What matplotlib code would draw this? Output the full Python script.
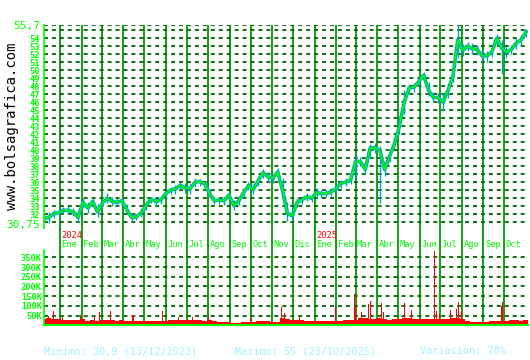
import numpy as np
import pandas as pd
import matplotlib
matplotlib.use("Agg")
import matplotlib.pyplot as plt
import matplotlib.transforms as mtransforms

# ---------------- data ----------------
week_start = "2023-12-09"
close = [31.5, 31.6, 32.1, 32.2, 32.5, 32.5, 32.3, 31.6, 33.5, 32.8,
         33.6, 32.3, 33.4, 34.0, 33.6, 33.5, 33.7, 32.6, 31.6, 31.7,
         32.2, 33.1, 33.9, 33.6, 33.8, 34.6, 35.0, 35.2, 35.6, 35.3,
         35.2, 36.0, 36.1, 35.8, 34.6, 33.7, 33.8, 33.7, 34.4, 33.1,
         33.7, 34.7, 35.6, 35.1, 36.2, 37.2, 36.7, 36.5, 37.3, 35.0,
         32.1, 31.8, 33.5, 33.8, 34.2, 34.0, 34.7, 34.6, 34.6, 34.8,
         35.2, 35.9, 36.0, 36.3, 38.6, 38.6, 37.6, 40.3, 40.3, 40.0,
         37.6, 39.3, 40.8, 43.0, 46.0, 47.8, 47.9, 48.6, 49.4, 47.5,
         46.6, 46.6, 46.0, 47.5, 49.2, 53.8, 52.5, 53.0, 52.7, 52.6,
         51.8, 51.8, 52.3, 54.0, 52.8, 52.3, 52.6, 53.4, 53.8, 54.8]
high = [32.2, 32.3, 32.6, 32.7, 32.9, 33.0, 32.8, 32.4, 34.0, 33.5,
        34.0, 33.3, 33.9, 34.7, 34.2, 34.0, 34.1, 33.3, 32.2, 32.1,
        32.8, 33.6, 34.2, 34.0, 34.2, 35.0, 35.4, 35.7, 36.0, 35.9,
        35.8, 36.5, 36.4, 36.2, 35.2, 34.2, 34.2, 34.2, 34.8, 33.8,
        34.2, 35.2, 36.0, 35.8, 36.7, 37.7, 37.3, 37.0, 37.8, 36.5,
        33.6, 32.8, 34.0, 34.3, 34.7, 34.6, 35.3, 35.1, 35.0, 35.3,
        35.7, 36.3, 36.5, 36.8, 39.5, 39.2, 38.5, 40.8, 40.9, 40.6,
        38.6, 39.8, 41.5, 44.2, 47.6, 48.3, 48.4, 49.1, 49.8, 48.5,
        47.3, 47.2, 47.2, 48.4, 50.0, 55.7, 53.3, 53.6, 53.4, 53.2,
        52.5, 52.4, 53.0, 54.5, 53.8, 53.0, 53.2, 54.0, 54.4, 55.2]
low = [31.1, 30.9, 31.6, 31.7, 32.0, 32.0, 31.8, 31.0, 32.8, 32.2,
       33.0, 31.7, 32.8, 33.4, 33.1, 33.0, 33.2, 32.0, 31.2, 31.3,
       31.7, 32.6, 33.4, 33.1, 33.3, 34.1, 34.5, 34.6, 35.1, 34.7,
       34.6, 35.4, 35.6, 35.3, 34.0, 33.3, 33.3, 33.2, 33.9, 32.6,
       33.2, 34.1, 35.0, 34.6, 35.6, 36.6, 36.1, 35.9, 36.7, 34.0,
       31.2, 31.2, 32.9, 33.3, 33.7, 33.5, 34.1, 34.1, 34.2, 34.3,
       34.7, 35.3, 35.5, 35.8, 36.5, 38.0, 37.0, 39.0, 39.7, 33.4,
       36.8, 38.6, 40.2, 42.0, 44.5, 47.0, 47.3, 48.0, 48.7, 46.8,
       46.0, 45.9, 44.9, 46.5, 48.5, 51.5, 51.8, 52.4, 52.0, 51.9,
       51.0, 51.1, 51.7, 53.2, 49.6, 51.6, 52.0, 52.7, 53.1, 54.2]
# weekly base volume, thousands of shares
vol_week = [34, 38, 34, 30, 28, 28, 26, 28, 30, 24,
            26, 24, 28, 26, 28, 24, 26, 22, 22, 24,
            22, 22, 24, 24, 22, 24, 26, 28, 28, 28,
            26, 28, 26, 24, 26, 22, 18, 16, 16, 14,
            14, 16, 18, 18, 22, 22, 24, 18, 18, 38,
            34, 28, 26, 26, 24, 22, 22, 24, 22, 22,
            24, 24, 26, 26, 28, 38, 38, 34, 34, 38,
            34, 28, 32, 34, 38, 38, 34, 32, 34, 32,
            34, 32, 34, 34, 38, 38, 34, 24, 18, 15,
            15, 18, 22, 22, 24, 24, 26, 26, 24, 28]
spike_dates = ["2023-12-15", "2023-12-23", "2024-01-05", "2024-01-30", "2024-02-20",
               "2024-02-27", "2024-03-14", "2024-04-15", "2024-05-28", "2024-06-20",
               "2024-07-10", "2024-08-02", "2024-10-02", "2024-11-15", "2024-11-19",
               "2024-12-10", "2025-01-31", "2025-02-27", "2025-03-01", "2025-03-10",
               "2025-03-19", "2025-03-22", "2025-04-07", "2025-04-10", "2025-05-10",
               "2025-05-20", "2025-06-22", "2025-06-25", "2025-06-30", "2025-07-15",
               "2025-07-24", "2025-07-27", "2025-07-31", "2025-09-27", "2025-09-28"]
spike_vol = [50, 73, 45, 55, 45,
             68, 73, 55, 75, 45,
             45, 50, 40, 96, 65,
             45, 96, 161, 96, 70,
             110, 124, 113, 70, 113,
             80, 385, 75, 60, 80,
             85, 118, 75, 100, 118]
month_names = ["Ene", "Feb", "Mar", "Abr", "May", "Jun",
               "Jul", "Ago", "Sep", "Oct", "Nov", "Dic"]
year_labels = ["2024", "2025"]
price_min, price_max = 30.75, 55.7
price_ticks = list(range(32, 55))
vol_ticks = [50, 100, 150, 200, 250, 300, 350]
footer = ["Minimo: 30,9 (13/12/2023)", "Maximo: 55 (23/10/2025)", "Variación: 78%"]

# ---------------- styling ----------------
GREEN = "#00ff00"
VGRID = "#009900"
HGRID = "#006400"
TEAL = "#00a8b4"
FOOT = "#a0f0ff"
MONO = "DejaVu Sans Mono"

dates = pd.date_range(week_start, periods=len(close), freq="7D")
sp_dates = pd.to_datetime(spike_dates)
months = pd.date_range("2024-01-01", "2025-10-01", freq="MS")
xlim = (pd.Timestamp("2023-12-09"), pd.Timestamp("2025-11-04"))

W, H = 530, 360
fig = plt.figure(figsize=(W / 100, H / 100), dpi=100)
fig.patch.set_facecolor("white")

def fx(px):
    return px / W

def fy(py):
    return 1 - py / H

L, R = 44, 528
P_TOP, P_BOT = 24.7, 224.3
V_TOP, V_BOT = 250, 325.3

bg = fig.add_axes([fx(L), fy(V_BOT), fx(R - L), (V_BOT - P_TOP) / H])
ax = fig.add_axes([fx(L), fy(P_BOT), fx(R - L), (P_BOT - P_TOP) / H])
av = fig.add_axes([fx(L), fy(V_BOT), fx(R - L), (V_BOT - V_TOP) / H])

# background: month lines and labels
bg.set_xlim(*xlim)
bg.set_ylim(0, 1)
bg.axis("off")
for m in months:
    bg.axvline(m, color=VGRID, lw=1.3, zorder=0)
trans = mtransforms.blended_transform_factory(bg.transData, bg.transAxes)
off = mtransforms.offset_copy(trans, fig=fig, x=1.5, y=0, units="dots")
y_lab = (V_BOT - 244.7) / (V_BOT - P_TOP)
y_year = (V_BOT - 236) / (V_BOT - P_TOP)
for m in months:
    bg.text(m, y_lab, month_names[m.month - 1], transform=off, color=GREEN,
            fontsize=6.3, family=MONO, ha="left", va="center")
for ylab in year_labels:
    d = pd.Timestamp(f"{ylab}-01-01")
    bg.text(d, y_year, ylab, transform=off, color="#ff0000",
            fontsize=6.3, family=MONO, ha="left", va="center")

# price panel
for a in (ax, av):
    a.set_facecolor("none")
    a.set_xlim(*xlim)
    for s in ("top", "right", "bottom"):
        a.spines[s].set_visible(False)
    a.spines["left"].set_color(GREEN)
    a.spines["left"].set_linewidth(1.2)
    a.set_xticks([])

ax.set_ylim(price_min, price_max)
ax.spines["left"].set_bounds(30.3, price_max)
levels = list(np.arange(31, 56)) + [price_max]
ax.hlines(levels, *xlim, colors=HGRID, linestyles=(0, (2.2, 2.2)), lw=1.3, zorder=1)
ax.vlines(dates, low, high, color=TEAL, lw=1.0, zorder=2)
ax.plot(dates, close, color=TEAL, lw=2.6, zorder=2)
ax.plot(dates, close, color=GREEN, lw=1.1, zorder=3)

ax.set_yticks([price_min] + price_ticks + [price_max])
ylabels = ["30,75"] + [str(t) for t in price_ticks] + ["55,7"]
ax.set_yticklabels(ylabels)
ax.tick_params(axis="y", length=0, pad=3, colors=GREEN)
for i, t in enumerate(ax.get_yticklabels()):
    t.set_family(MONO)
    if i == 0 or i == len(ylabels) - 1:
        t.set_fontsize(8)
    else:
        t.set_fontsize(6.3)
        t.set_fontweight("bold")

# volume panel
av.set_ylim(0, 388)
av.hlines(vol_ticks, *xlim, colors=HGRID, linestyles=(0, (2.2, 2.2)), lw=1.3, zorder=1)
av.bar(dates, vol_week, width=7, color="#ff0000", lw=0, zorder=2)
av.bar(sp_dates, spike_vol, width=1.6, color="#ff0000", lw=0, zorder=2)
av.spines["bottom"].set_visible(True)
av.spines["bottom"].set_color(GREEN)
av.spines["bottom"].set_linewidth(1.5)
av.spines["left"].set_bounds(0, 388)
av.set_yticks(vol_ticks)
av.set_yticklabels([f"{v}K" for v in vol_ticks])
av.tick_params(axis="y", length=0, pad=1.5, colors=GREEN)
for t in av.get_yticklabels():
    t.set_family(MONO)
    t.set_fontsize(6.3)
    t.set_fontweight("bold")

# watermark
fig.text(fx(12.5), fy(126.5), "www.bolsagrafica.com", rotation=90, family=MONO,
         fontsize=10, color="black", ha="center", va="center")

# footer
for txt, px in zip(footer, (44, 235, 420)):
    fig.text(fx(px), fy(351), txt, family=MONO, fontsize=7.3, color=FOOT,
             ha="left", va="center")

fig.savefig("out.png", dpi=100, facecolor="white")
